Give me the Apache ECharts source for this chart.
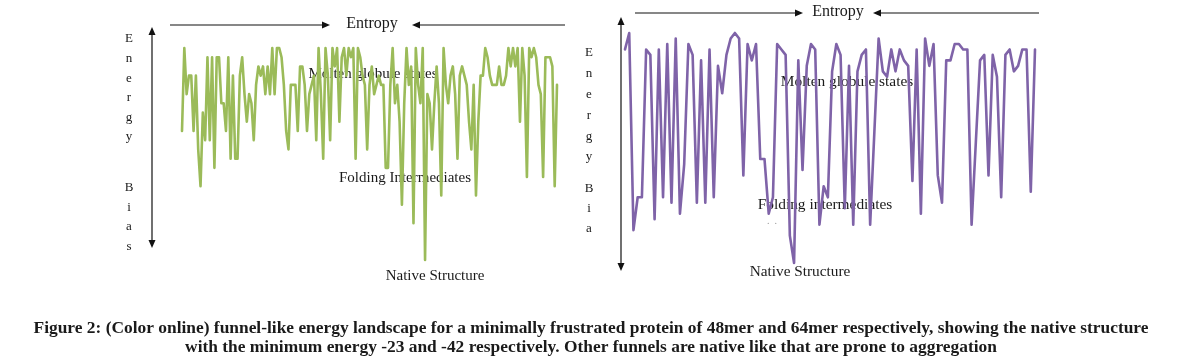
<!DOCTYPE html>
<html>
<head>
<meta charset="utf-8">
<script src="https://cdn.jsdelivr.net/npm/echarts@6/dist/echarts.min.js"></script>
<style>
html,body{margin:0;padding:0;background:#fff;}
#chart{width:1183px;height:363px;}
</style>
</head>
<body>
<div id="chart"></div>
<script>
// 48mer landscape (energy per sampled conformation), min -23
const greenEnergy = [
 -9,0,-5,-3,-3,-9,-3,-11,-15,-7,
 -10,-1,-10,-1,-13,-1,-1,-6,-6,-9,
 -1,-12,-3,-12,-12,-3,-1,-5,-8,-5,
 -6,-10,-4,-2,-3,-2,-5,-2,-5,0,
 -5,0,0,-1,-4,-9,-11,-4,-4,-4,
 -9,-2,-2,-4,-9,-5,-4,-3,-10,0,
 -5,-12,0,-3,-10,0,-2,0,-8,-1,
 0,-3,0,-1,0,-12,0,-1,-3,-4,
 -11,-4,-2,-5,-4,-3,-4,-4,-13,-13,
 -4,0,-6,-4,-8,-17,-6,0,-4,-2,
 -19,0,-4,-6,0,-23,-5,-6,-11,-6,
 -2,-6,-16,0,-4,-6,-3,-2,-5,-12,
 -3,-2,-3,-4,-8,-11,-4,-16,-8,-3,
 -3,0,-1,-3,-4,-4,-4,-2,-4,-4,
 -3,0,-2,0,-2,0,-8,0,-3,-14,
 0,-1,0,-1,-4,-5,-14,-1,-1,-1,
 -2,-15,-4
];
// 64mer landscape, min -42
const purpleEnergy = [
 -3,0,-36,-30,-30,-3,-4,-34,-3,-30,
 -2,-31,-1,-33,-24,-2,-4,-31,-5,-31,
 -3,-30,-6,-11,-4,-1,0,-1,-26,-2,
 -5,-2,-23,-23,-33,-30,-2,-3,-4,-37,
 -42,-5,-25,-6,-2,-3,-35,-28,-30,-7,
 -2,-4,-32,-6,-35,-7,-4,-3,-35,-18,
 -1,-7,-8,-3,-7,-3,-5,-6,-27,-3,
 -33,-1,-6,-2,-26,-31,-5,-5,-2,-2,
 -3,-3,-35,-20,-5,-4,-26,-4,-8,-30,
 -4,-3,-7,-6,-3,-3,-29,-3
];
const greenRange = [-23, 0];
const purpleRange = [-42, 0];

const captionLines = [
 'Figure 2: (Color online) funnel-like energy landscape for a minimally frustrated protein of 48mer and 64mer respectively, showing the native structure',
 'with the minimum energy -23 and -42 respectively. Other funnels are native like that are prone to aggregation'
];

const greenSteps = greenEnergy.map((_, i) => i);
const purpleSteps = purpleEnergy.map((_, i) => i);

const SERIF = '"Liberation Serif","DejaVu Serif",serif';
const INK = '#1a1a1a';

function txt(x, y, text, size, opts) {
  opts = opts || {};
  return {
    type: 'text', x: x, y: y, silent: true,
    style: {
      text: text,
      font: (opts.weight || 'normal') + ' ' + size + 'px ' + SERIF,
      fill: opts.fill || INK,
      align: opts.align || 'center', textAlign: opts.align || 'center',
      verticalAlign: opts.va || 'middle', textVerticalAlign: opts.va || 'middle',
      lineHeight: opts.lh || size
    }
  };
}
function hArrow(x1, x2, y) {
  const d = x2 > x1 ? 1 : -1;
  return [
    {type:'line', silent:true, shape:{x1:x1, y1:y, x2:x2 - d*6, y2:y}, style:{stroke:'#111', lineWidth:1.2}},
    {type:'polygon', silent:true, shape:{points:[[x2, y],[x2 - d*8, y-3.5],[x2 - d*8, y+3.5]]}, style:{fill:'#111'}}
  ];
}
function vArrow(x, y1, y2) {
  return [
    {type:'line', silent:true, shape:{x1:x, y1:y1+5, x2:x, y2:y2-5}, style:{stroke:'#111', lineWidth:1.2}},
    {type:'polygon', silent:true, shape:{points:[[x, y1],[x-3.5, y1+8],[x+3.5, y1+8]]}, style:{fill:'#111'}},
    {type:'polygon', silent:true, shape:{points:[[x, y2],[x-3.5, y2-8],[x+3.5, y2-8]]}, style:{fill:'#111'}}
  ];
}

const graphics = [].concat(
  // left panel
  vArrow(152, 27, 248),
  hArrow(170, 330, 25), hArrow(565, 412, 25),
  [txt(372, 24, 'Entropy', 16),
   txt(129, 88, 'E\nn\ne\nr\ng\ny', 13, {lh: 19.6}),
   txt(129, 217, 'B\ni\na\ns', 13, {lh: 19.4}),
   txt(373, 74, 'Molten globule states', 15),
   txt(405, 178, 'Folding Intermediates', 15),
   txt(435, 276, 'Native Structure', 15)],
  // right panel
  vArrow(621, 17, 271),
  hArrow(635, 803, 13), hArrow(1039, 873, 13),
  [txt(838, 12, 'Entropy', 16),
   txt(589, 105, 'E\nn\ne\nr\ng\ny', 13, {lh: 20.8}),
   txt(589, 209, 'B\ni\na', 13, {lh: 20}),
   txt(847, 82, 'Molten globule states', 15.4),
   txt(825, 205, 'Folding intermediates', 15.4),
   txt(772, 221, '.  .', 10, {fill:'#999'}),
   txt(800, 272, 'Native Structure', 15.3)],
  // caption
  [txt(591, 329, captionLines[0], 17.4, {weight:'bold'}),
   txt(591, 348, captionLines[1], 17.4, {weight:'bold'})]
);

const chart = echarts.init(document.getElementById('chart'), null, {renderer:'canvas'});
chart.setOption({
  animation: false,
  backgroundColor: '#fff',
  grid: [
    {left: 182, top: 48, width: 375, height: 212},
    {left: 625, top: 33, width: 410, height: 230}
  ],
  xAxis: [
    {type:'category', gridIndex:0, data: greenSteps, boundaryGap:false, show:false},
    {type:'category', gridIndex:1, data: purpleSteps, boundaryGap:false, show:false}
  ],
  yAxis: [
    {type:'value', gridIndex:0, min: greenRange[0], max: greenRange[1], show:false},
    {type:'value', gridIndex:1, min: purpleRange[0], max: purpleRange[1], show:false}
  ],
  series: [
    {type:'line', xAxisIndex:0, yAxisIndex:0, data: greenEnergy, showSymbol:false, clip:false,
     lineStyle:{color:'#9BBB59', width:2.6, join:'round', cap:'round'}, itemStyle:{color:'#9BBB59'}},
    {type:'line', xAxisIndex:1, yAxisIndex:1, data: purpleEnergy, showSymbol:false, clip:false,
     lineStyle:{color:'#7F63A8', width:2.6, join:'round', cap:'round'}, itemStyle:{color:'#7F63A8'}}
  ],
  graphic: graphics
});
</script>
</body>
</html>
